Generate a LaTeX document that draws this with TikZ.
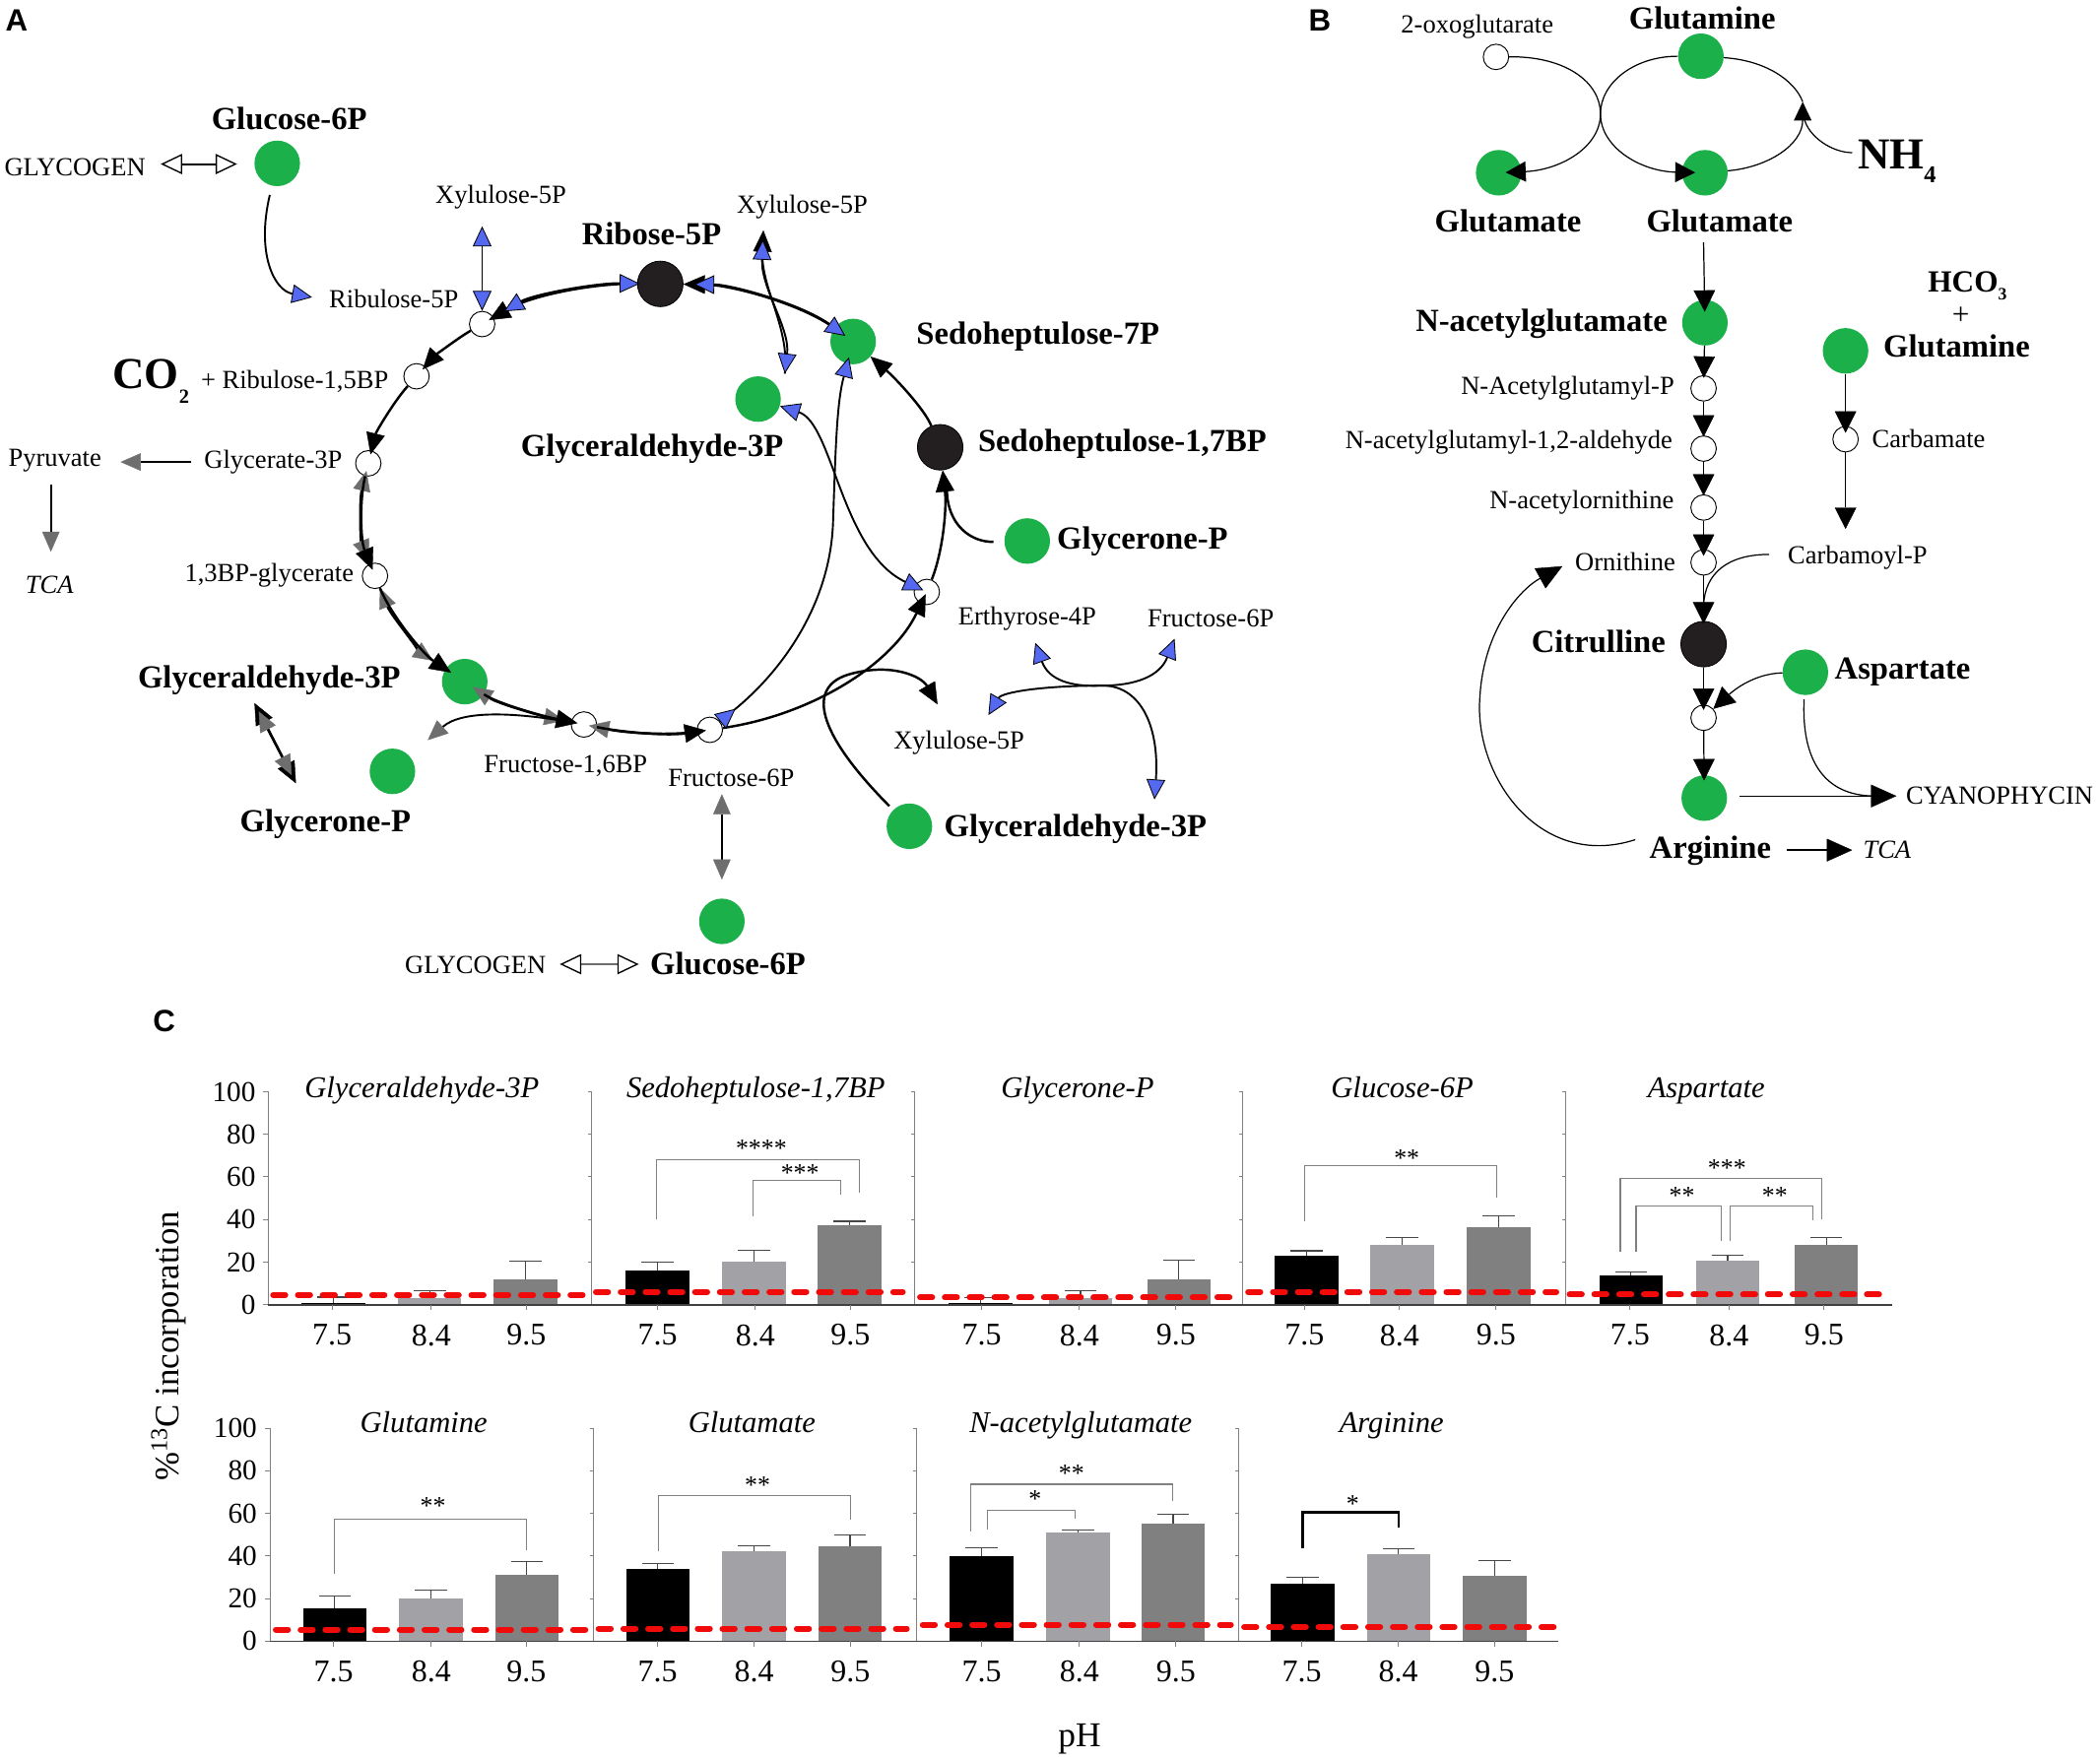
\documentclass[tikz,border=0pt]{standalone}
\usepackage{fontspec}
\setmainfont{Liberation Serif}
\newfontfamily\lsans{Liberation Sans}
\usetikzlibrary{arrows.meta}
\newcommand\fsz[1]{\fontsize{#1}{#1}\selectfont}
\definecolor{grn}{RGB}{27,176,74}
\definecolor{blk}{RGB}{35,31,32}
\definecolor{blu}{RGB}{84,104,240}
\definecolor{gry}{RGB}{110,110,110}
\definecolor{lgbar}{RGB}{161,161,166}
\definecolor{dgbar}{RGB}{128,128,128}
\definecolor{errc}{RGB}{70,70,70}
\definecolor{redc}{RGB}{240,10,10}
\tikzset{
  tk/.tip={Triangle[length=16pt,width=14pt,line width=0.3pt]},
  tb/.tip={Triangle[length=15pt,width=14pt,color=black,fill=blu,line width=0.6pt]},
  tg/.tip={Triangle[length=15pt,width=13pt,color=gry,fill=gry,line width=0.3pt]},
  tkb/.tip={Triangle[length=16pt,width=16pt,line width=0.3pt]},
  tkb2/.tip={Triangle[length=19pt,width=17pt,line width=0.3pt]},
  topen/.tip={Triangle[open,length=16pt,width=15pt,color=black,line width=1pt]},
  gnode/.style={circle,fill=grn,minimum size=34pt,inner sep=0pt},
  knode/.style={circle,fill=blk,draw=black,line width=0.6pt,minimum size=34pt,inner sep=0pt},
  onode/.style={circle,fill=white,draw=black,line width=0.7pt,minimum size=19pt,inner sep=0pt},
  lab/.style={font=\fsz{19.5},inner sep=0pt,anchor=base},
  blab/.style={font=\bfseries\fsz{24},inner sep=0pt,anchor=base},
  plab/.style={font=\lsans\bfseries\fsz{23},inner sep=0pt,anchor=base west},
  cyc/.style={line width=1.8pt},
  thn/.style={line width=1.4pt},
  bl/.style={line width=0.9pt},
  redd/.style={line width=4.5pt,redc,dash pattern=on 9pt off 9.5pt,line cap=round},
  brc/.style={line width=0.8pt,draw=gray},
  axc/.style={line width=1.2pt,draw=black!75},
  sepc/.style={line width=0.7pt,draw=gray},
  ttl/.style={font=\itshape\fsz{22.5},inner sep=0pt,anchor=base},
  ytk/.style={font=\fsz{21.5},inner sep=0pt,anchor=east},
  xtk/.style={font=\fsz{23.5},inner sep=0pt},
  ast/.style={font=\fsz{19},inner sep=0pt}
}
\newcommand\cbar[5]{%
  \fill[#5] ({#1-23.75},#2) rectangle ({#1+23.75},{#2-1.591*#3});
  \draw[line width=0.8pt,errc] (#1,{#2-1.591*#3}) -- (#1,{#2-1.591*#4}) ++(-12,0) -- ++(24,0);
}
\newcommand\rline[4]{\draw[redd] (#1,{#3-1.591*#4}) -- (#2,{#3-1.591*#4});}
\newcommand\brk[5]{\draw[brc] (#1,#2) |- (#4,#3) -- (#4,#5);}
\begin{document}
\begin{tikzpicture}[x=1pt,y=-1pt]
\useasboundingbox (0,0) rectangle (1568,1314);
\fill[white] (0,0) rectangle (1568,1314);

% ================= PANEL A =================
\node[plab] (labA) at (4,23) {A};
\node[gnode] (g6pA) at (207,122) {};
\node[blab] (tG6pA) at (216,97) {Glucose-6P};
\node[lab] (tGlyA) at (56,131) {GLYCOGEN};
\coordinate (glyA1) at (120,122.5);
\coordinate (glyA2) at (177,122.5);
\node[lab] (tRu5p) at (294,230) {Ribulose-5P};
\coordinate (ru5tip) at (233,222);
\node[lab] (tXu1) at (374,152) {Xylulose-5P};
\coordinate (xu1tip) at (360,169);
\node[onode] (c1) at (360,242) {};
\node[knode] (rib) at (493,212) {};
\node[blab] (tRib) at (486.5,182.6) {Ribose-5P};
\node[onode] (c2) at (311,281) {};
\node[font=\bfseries\fsz{33},inner sep=0pt,anchor=base west] (tCO) at (84,290.4) {CO\raisebox{-11pt}{\fsz{15}2}};
\node[lab] (tRubp) at (220,290.4) {+ Ribulose-1,5BP};
\node[onode] (c3) at (275,346) {};
\node[lab] (tG3p) at (204,350) {Glycerate-3P};
\node[lab] (tPyr) at (41,348) {Pyruvate};
\node[lab,font=\itshape\fsz{19.5}] (tTCA1) at (37,443) {TCA};
\coordinate (pyA) at (143,345);
\coordinate (pyB) at (90,345);
\coordinate (pyC) at (38,362);
\coordinate (pyD) at (38,412);
\node[onode] (c4) at (280,430) {};
\node[lab] (tBpg) at (201,434) {1,3BP-glycerate};
\node[gnode] (gs1) at (347,509) {};
\node[blab] (tGa3pL) at (201,514) {Glyceraldehyde-3P};
\coordinate (dA) at (190,525);
\coordinate (dB) at (221,585);
\node[gnode] (gs2) at (293,576) {};
\node[blab] (tDhapL) at (243,621) {Glycerone-P};
\node[onode] (c5) at (436,541) {};
\node[lab] (tF16) at (422.4,577) {Fructose-1,6BP};
\node[onode] (c6) at (530,545) {};
\node[lab] (tF6pB) at (546,587) {Fructose-6P};
\coordinate (f6tip) at (539,593);
\node[gnode] (g6pB) at (539,688) {};
\node[blab] (tG6pB) at (543.5,728) {Glucose-6P};
\node[lab] (tGlyB) at (355,727) {GLYCOGEN};
\coordinate (glyB1) at (418,720);
\coordinate (glyB2) at (477,720);
\node[gnode] (gs4) at (679,617) {};
\node[blab] (tGa3pR) at (803,625) {Glyceraldehyde-3P};
\node[lab] (tXu3) at (716,559) {Xylulose-5P};
\coordinate (xu3tip) at (700,526);
\node[lab] (tE4p) at (767,467) {Erthyrose-4P};
\node[lab] (tF6pR) at (904,468) {Fructose-6P};
\coordinate (eA) at (773,480);
\coordinate (eB) at (877,477);
\coordinate (eC) at (738,534);
\coordinate (eD) at (862,597);
\node[knode] (sbp) at (702,334) {};
\node[blab] (tSbp) at (838,337) {Sedoheptulose-1,7BP};
\node[gnode] (s7p) at (637,255) {};
\node[blab] (tS7p) at (775,257) {Sedoheptulose-7P};
\node[gnode] (glyPR) at (767,404) {};
\node[blab] (tDhapR) at (853,410) {Glycerone-P};
\coordinate (sbpJoin) at (707,365);
\node[onode] (c7) at (692,442) {};
\node[gnode] (gs3) at (566,298) {};
\node[blab] (tGa3pC) at (487,341) {Glyceraldehyde-3P};
\node[lab] (tXu2) at (599,159) {Xylulose-5P};
\coordinate (xu2tip) at (570,172);
\coordinate (xu2bot) at (586,279);

% connectors panel A
\draw[line width=1.5pt,topen-topen] (glyA1) -- (glyA2);
\draw[line width=1.5pt,draw=gry,topen-topen] (glyB1) -- (glyB2);
\draw[thn,-tb,shorten <=7pt] (g6pA) .. controls (191,190) and (205,217) .. (ru5tip);
\draw[thn,tb-tb] (xu1tip) -- (c1);
% cycle
\draw[cyc,-tk,shorten >=-4pt] (rib) .. controls (445.2,211.4) and (398.3,219.8) .. (c1);
\draw[cyc,tb-tb,shorten <=-2pt,shorten >=9pt] (rib) .. controls (445.2,211.4) and (398.3,219.8) .. (c1);
\draw[cyc,-tk,shorten >=-3pt] (c1) .. controls (341.3,252.8) and (324.3,266.1) .. (c2);
\draw[cyc,-tk,shorten >=-3pt] (c2) .. controls (293.7,300.3) and (280.7,322.9) .. (c3);
\draw[cyc,tg-tg,shorten <=-4pt,shorten >=3pt] (c3) .. controls (268.3,373.4) and (269.2,403.4) .. (c4);
\draw[cyc,-tk,shorten >=-5pt] (c3) .. controls (268.3,373.4) and (269.2,403.4) .. (c4);
\draw[cyc,tg-tg,shorten >=11pt] (c4) .. controls (292.2,460) and (316.2,488.6) .. (gs1);
\draw[cyc,-tk,shorten >=-5pt] (c4) .. controls (292.2,460) and (316.2,488.6) .. (gs1);
\draw[cyc,tg-tg,shorten <=-10pt,shorten >=5pt] (gs1) .. controls (371.9,525.5) and (404.4,534.6) .. (c5);
\draw[cyc,-tk,shorten >=-5pt] (gs1) .. controls (371.9,525.5) and (404.4,534.6) .. (c5);
\draw[cyc,tg-,shorten <=-6pt] (c5) .. controls (466.7,547.2) and (498.9,549.5) .. (c6);
\draw[cyc,-tk,shorten >=-7pt] (c5) .. controls (466.7,547.2) and (498.9,549.5) .. (c6);
\draw[cyc,-tk,shorten >=-8pt] (c6) .. controls (604.4,534.2) and (665.5,497.2) .. (c7);
\draw[cyc,-tk] (c7) .. controls (704,412) and (707,380) .. (sbp);
\draw[cyc,shorten <=8pt] (glyPR) .. controls (725,405) and (707,392) .. (sbpJoin);
\draw[cyc,-tk] (sbp) .. controls (690,305) and (668,282) .. (s7p);
\draw[cyc,-tk] (s7p) .. controls (598,226.9) and (546.1,212.7) .. (rib);
\draw[cyc,tb-tb,shorten <=-10pt,shorten >=8pt] (s7p) .. controls (598,226.9) and (546.1,212.7) .. (rib);
% side reactions
\draw[thn,-tk] (xu2bot) .. controls (590,245) and (568,215) .. (xu2tip);
\draw[thn,tb-tb,shorten >=7pt] (xu2bot) .. controls (590,245) and (568,215) .. (xu2tip);
\draw[thn,tb-tb,shorten >=-7pt] (gs3) .. controls (622,316) and (628,412) .. (c7);
\draw[thn,{tb[reversed]}-tb,shorten >=-5pt] (c6) .. controls (585,500) and (620,450) .. (622,390) .. controls (624,330) and (625,300) .. (s7p);
\draw[cyc,-tk,shorten <=4pt] (gs4) .. controls (609.4,546.8) and (601,511.75) .. (636,503) .. controls (666,495) and (688,505) .. (xu3tip);
\draw[thn,tb-tb] (eA) .. controls (783,508) and (800,513) .. (822,512) .. controls (850,511) and (866,540) .. (eD);
\draw[thn,tb-tb] (eB) .. controls (866,505) and (848,512) .. (822,512) .. controls (778,512) and (748,517) .. (eC);
\draw[thn,-tg,shorten >=18pt] (c5) .. controls (385,532) and (345,530) .. (gs2);
\draw[cyc,tk-tk] (dA) -- (dB);
\draw[cyc,tg-tg,shorten <=7pt,shorten >=7pt] (dA) -- (dB);
\draw[thn,tg-tg,shorten >=14pt] (f6tip) -- (g6pB);
\draw[line width=1.5pt,-tg] (pyA) -- (pyB);
\draw[line width=1.5pt,-tg] (pyC) -- (pyD);

% ================= PANEL B =================
\node[plab] (labB) at (977,23) {B};
\node[lab] (tOxo) at (1103,24.5) {2-oxoglutarate};
\node[onode] (oxo) at (1117,42.5) {};
\node[blab] (tGln) at (1271,21.5) {Glutamine};
\node[gnode] (gln) at (1270,42) {};
\node[gnode] (gluL) at (1119,129) {};
\node[gnode] (gluR) at (1273,129) {};
\node[blab] (tGluL) at (1126,173) {Glutamate};
\node[blab] (tGluR) at (1284,173) {Glutamate};
\node[font=\bfseries\fsz{33},inner sep=0pt,anchor=base west] (tNH) at (1387,126.2) {NH\raisebox{-10pt}{\fsz{18}4}};
\coordinate (nhS) at (1383,114);
\coordinate (nhJ) at (1347,88);
\coordinate (nhtip) at (1346,76);
\coordinate (gluRbot) at (1272,181);
\node[gnode] (nag) at (1273,241) {};
\node[blab] (tNag) at (1151,247.5) {N-acetylglutamate};
\node[onode] (cb1) at (1272,290) {};
\node[lab] (tNagp) at (1170.5,294.5) {N-Acetylglutamyl-P};
\node[onode] (cb2) at (1272,335) {};
\node[lab] (tNaga) at (1126.6,335) {N-acetylglutamyl-1,2-aldehyde};
\node[onode] (cb3) at (1272,379) {};
\node[lab] (tNao) at (1181,380) {N-acetylornithine};
\node[onode] (cb4) at (1272,420) {};
\node[lab] (tOrn) at (1213.5,426) {Ornithine};
\node[knode] (cit) at (1272,481) {};
\node[blab] (tCit) at (1193.5,487.5) {Citrulline};
\node[lab] (tCarbP) at (1387,421) {Carbamoyl-P};
\coordinate (carbS) at (1321,414);
\coordinate (carbJ) at (1272,452);
\node[onode] (cb5) at (1272,536) {};
\node[gnode] (asp) at (1348,502) {};
\node[blab] (tAsp) at (1420.6,507) {Aspartate};
\node[gnode] (arg) at (1272.5,596) {};
\node[blab] (tArg) at (1277,641) {Arginine};
\node[lab,font=\itshape\fsz{19.5}] (tTCA2) at (1409,641) {TCA};
\node[lab] (tCyan) at (1493,600.5) {CYANOPHYCIN};
\coordinate (argE) at (1299,594.4);
\coordinate (cyanJ) at (1400,594.4);
\coordinate (cyantip) at (1416,594.4);
\coordinate (tcaS) at (1334,634.8);
\coordinate (tcatip) at (1383,634.8);
\coordinate (argL) at (1221,627);
\coordinate (orntip) at (1166.6,422.8);
\node[font=\bfseries\fsz{23},inner sep=0pt,anchor=base] (tHco) at (1469,218.2) {HCO\raisebox{-6pt}{\fsz{13}3}};
\node[font=\fsz{23},inner sep=0pt] (tPlus) at (1464,236) {+};
\node[blab] (tGln2) at (1461,266.5) {Glutamine};
\node[gnode] (gln2) at (1378,262) {};
\node[onode] (ccb) at (1378,328) {};
\node[lab] (tCarb) at (1440,334.6) {Carbamate};
\coordinate (carbtip) at (1378,395);

\draw[bl,-{Triangle[length=15pt,width=15pt]},shorten >=-12pt] (oxo) .. controls (1170,42) and (1195,62) .. (1195,85) .. controls (1195,110) and (1165,127) .. (gluL);
\draw[bl,-{Triangle[length=15pt,width=15pt]},shorten >=-10pt] (gln) .. controls (1220,42) and (1195,62) .. (1195,85) .. controls (1195,110) and (1225,128) .. (gluR);
\draw[bl] (gln) .. controls (1318,45) and (1340,60) .. (nhtip);
\draw[bl,-{Triangle[length=14pt,width=13pt]}] (gluR) .. controls (1320,125) and (1346,108) .. (nhtip);
\draw[bl] (nhS) .. controls (1368,114) and (1350,102) .. (nhJ);
\draw[bl,-tkb,shorten >=-9pt] (gluRbot) -- (nag);
\draw[bl,-tkb,shorten >=-2pt] (nag) -- (cb1);
\draw[bl,-tkb,shorten >=-1pt] (cb1) -- (cb2);
\draw[bl,-tkb,shorten >=-1pt] (cb2) -- (cb3);
\draw[bl,-tkb,shorten >=-5pt] (cb3) -- (cb4);
\draw[bl,-tkb,shorten >=-2pt] (cb4) -- (cit);
\draw[bl] (carbS) .. controls (1290,414) and (1273,428) .. (carbJ);
\draw[bl,-tkb,shorten >=-4pt] (cit) -- (cb5);
\draw[bl,-tkb] (asp) .. controls (1310,503) and (1295,515) .. (cb5);
\draw[bl,-tkb,shorten >=-4pt] (cb5) -- (arg);
\draw[bl,shorten <=3pt] (asp) .. controls (1345,565) and (1360,594.4) .. (cyanJ);
\draw[bl,-tkb2] (argE) -- (cyantip);
\draw[line width=1.8pt,-tkb2] (tcaS) -- (tcatip);
\draw[bl,-tkb2] (argL) .. controls (1150,650) and (1100,580) .. (1105,520) .. controls (1108,470) and (1135,440) .. (orntip);
\draw[bl,-tkb,shorten >=-5pt] (gln2) -- (ccb);
\draw[bl,-tkb] (ccb) -- (carbtip);

% ================= PANEL C =================
\node[plab] (labC) at (114,770.5) {C};
\node[rotate=90,font=\fsz{25.6},inner sep=0pt] (ylab) at (126,1005) {\%\textsuperscript{13}C incorporation};
\node[font=\fsz{26},inner sep=0pt,anchor=base] (xlab) at (806,1304) {pH};

% row 1 axes
\draw[sepc] (200.3,815) -- (200.3,974.3);
\foreach \xx in {441.3,683.1,927.5,1169} {\draw[sepc] (\xx,815) -- (\xx,974.3);}
\foreach \vv in {0,20,40,60,80,100} {
  \draw[sepc] (200.3,{974.3-1.591*\vv}) -- ++(-4,0);
  \node[ytk] at (191,{974.3-1.591*\vv}) {\vv};
  \foreach \xx in {441.3,683.1,927.5,1169} {\draw[sepc] (\xx,{974.3-1.591*\vv}) -- ++(-2.5,0);}
}
% row 1 titles
\node[ttl] at (315,820) {Glyceraldehyde-3P};
\node[ttl] at (564.3,820) {Sedoheptulose-1,7BP};
\node[ttl] at (804.5,820) {Glycerone-P};
\node[ttl] at (1047,820) {Glucose-6P};
\node[ttl] at (1274,820) {Aspartate};
% row 1 bars
\cbar{248.8}{974.3}{1.0}{3.6}{black}
\cbar{320.8}{974.3}{3.1}{6.7}{lgbar}
\cbar{392.3}{974.3}{11.9}{20.3}{dgbar}
\cbar{491}{974.3}{16.0}{20.0}{black}
\cbar{563}{974.3}{20.3}{25.7}{lgbar}
\cbar{634.5}{974.3}{37.4}{39.2}{dgbar}
\cbar{732}{974.3}{0.7}{3.5}{black}
\cbar{806.8}{974.3}{3.1}{6.7}{lgbar}
\cbar{880.2}{974.3}{11.9}{20.8}{dgbar}
\cbar{975.4}{974.3}{23.0}{25.3}{black}
\cbar{1047}{974.3}{28.0}{31.6}{lgbar}
\cbar{1118.9}{974.3}{36.2}{41.9}{dgbar}
\cbar{1217.8}{974.3}{13.6}{15.3}{black}
\cbar{1290}{974.3}{20.8}{23.1}{lgbar}
\cbar{1363.6}{974.3}{28.2}{31.6}{dgbar}
\draw[axc] (200.3,974.3) -- (1413,974.3);
\foreach \xx/\lbl in {248/7.5,322/8.4,393/9.5,491/7.5,564/8.4,635/9.5,733/7.5,806/8.4,878/9.5,974/7.5,1045/8.4,1117/9.5,1217/7.5,1291/8.4,1362/9.5} {
  \draw[sepc] (\xx,974.3) -- ++(0,4);
  \node[xtk] at (\xx,997) {\lbl};
}
\rline{204}{437}{974.3}{4.6}
\rline{445}{674}{974.3}{6.0}
\rline{687}{920}{974.3}{3.4}
\rline{932}{1162}{974.3}{6.0}
\rline{1172}{1404}{974.3}{4.8}
% row 1 significance
\brk{490}{910.5}{865.9}{641.4}{890.9}
\brk{562.2}{908.1}{881.6}{627.4}{892.2}
\brk{974.4}{911.8}{870.6}{1117.5}{894.6}
\brk{1209.8}{935.1}{879.9}{1359.9}{910.5}
\brk{1221.6}{935.1}{900.7}{1284.9}{927}
\brk{1291.9}{927}{900.7}{1353.3}{911.3}
\node[ast] at (568.4,857.4) {****};
\node[ast] at (597.3,875.8) {***};
\node[ast] at (1050.4,864.8) {**};
\node[ast] at (1289.5,872.1) {***};
\node[ast] at (1255.8,892.9) {**};
\node[ast] at (1325.2,892.9) {**};

% row 2 axes
\draw[sepc] (201.6,1066.7) -- (201.6,1225.5);
\foreach \xx in {443.1,684.1,924.9} {\draw[sepc] (\xx,1066.7) -- (\xx,1225.5);}
\foreach \vv in {0,20,40,60,80,100} {
  \draw[sepc] (201.6,{1225.5-1.591*\vv}) -- ++(-4,0);
  \node[ytk] at (192,{1225.5-1.591*\vv}) {\vv};
  \foreach \xx in {443.1,684.1,924.9} {\draw[sepc] (\xx,{1225.5-1.591*\vv}) -- ++(-2.5,0);}
}
\node[ttl] at (316.4,1070) {Glutamine};
\node[ttl] at (561.4,1070) {Glutamate};
\node[ttl] at (807,1070) {N-acetylglutamate};
\node[ttl] at (1039,1070) {Arginine};
\cbar{250}{1225.5}{15.4}{21.0}{black}
\cbar{321.7}{1225.5}{20.1}{23.8}{lgbar}
\cbar{393.4}{1225.5}{31.1}{37.5}{dgbar}
\cbar{491.2}{1225.5}{33.8}{36.3}{black}
\cbar{563}{1225.5}{42.0}{44.9}{lgbar}
\cbar{634.7}{1225.5}{44.4}{49.8}{dgbar}
\cbar{733}{1225.5}{40.1}{44.0}{black}
\cbar{805}{1225.5}{50.9}{52.2}{lgbar}
\cbar{875.9}{1225.5}{55.3}{59.4}{dgbar}
\cbar{972.6}{1225.5}{26.9}{29.8}{black}
\cbar{1044.3}{1225.5}{40.7}{43.2}{lgbar}
\cbar{1115.9}{1225.5}{30.8}{37.8}{dgbar}
\draw[axc] (201.6,1225.5) -- (1163.4,1225.5);
\foreach \xx/\lbl in {249/7.5,322/8.4,393/9.5,491/7.5,563/8.4,635/9.5,733/7.5,806/8.4,878/9.5,972/7.5,1044/8.4,1116/9.5} {
  \draw[sepc] (\xx,1225.5) -- ++(0,4);
  \node[xtk] at (\xx,1248) {\lbl};
}
\rline{206}{438}{1225.5}{5.4}
\rline{447}{677}{1225.5}{5.9}
\rline{689}{919}{1225.5}{7.7}
\rline{929}{1161}{1225.5}{6.6}
\brk{249.7}{1175.2}{1134.3}{393.2}{1157.6}
\brk{491.7}{1158.1}{1117.1}{635.1}{1134.8}
\brk{725.1}{1143.4}{1108.3}{875.5}{1120.6}
\brk{737.6}{1142.2}{1127.9}{803}{1134.1}
\draw[line width=1.8pt] (972.6,1156.4) |- (1044.3,1129.2) -- (1044.3,1141);
\node[ast] at (323.3,1124.5) {**};
\node[ast] at (565.6,1109.3) {**};
\node[ast] at (800,1100) {**};
\node[ast] at (772.8,1119.6) {*};
\node[ast] at (1010.1,1123.3) {*};
\end{tikzpicture}
\end{document}
